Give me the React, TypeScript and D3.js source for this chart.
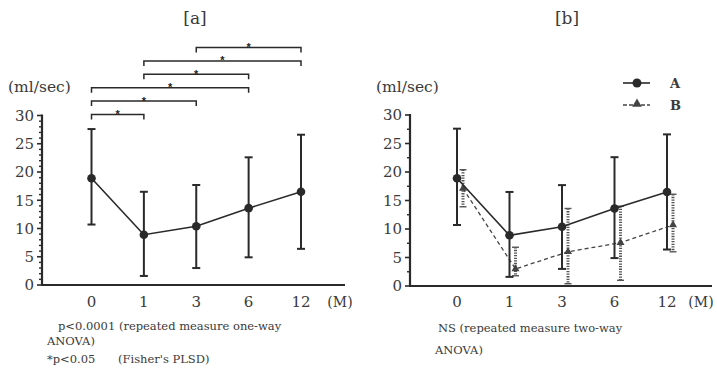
import React from "react";
import * as d3 from "d3";

const months = ["0", "1", "3", "6", "12"];
const meanA = [18.9, 8.9, 10.4, 13.6, 16.5];
const upperA = [27.6, 16.5, 17.7, 22.6, 26.6];
const lowerA = [10.7, 1.6, 3.0, 4.9, 6.4];
const meanB = [17.1, 3.0, 6.0, 7.6, 10.7];
const upperB = [20.4, 6.8, 13.6, 14.0, 16.1];
const lowerB = [13.9, 1.8, 0.4, 1.0, 6.0];
const sigPairs: [string, string][] = [
  ["0", "1"],
  ["0", "3"],
  ["0", "6"],
  ["1", "6"],
  ["1", "12"],
  ["3", "12"],
];
const yMajor = [0, 5, 10, 15, 20, 25, 30];
const notesA = ["p<0.0001 (repeated measure one-way", "ANOVA)", "*p<0.05", "(Fisher's PLSD)"];
const notesB = ["NS (repeated measure two-way", "ANOVA)"];

const FONT = "'DejaVu Serif', 'Liberation Serif', serif";
const INK = "#2a2a2a";
const TXT = "#3a3a3a";

type PanelProps = {
  axisX: number;
  axisEnd: number;
  mX: number;
  xRange: [number, number];
  yRange: [number, number];
  title: string;
  titleX: number;
  minorStep: number;
  children?: (x: d3.ScalePoint<string>, y: d3.ScaleLinear<number, number>) => React.ReactNode;
};

function Panel({ axisX, axisEnd, mX, xRange, yRange, title, titleX, minorStep, children }: PanelProps) {
  const x = d3.scalePoint<string>().domain(months).range(xRange);
  const y = d3.scaleLinear().domain([0, 30]).range(yRange);
  const minor = d3.range(0, 30 + 0.001, minorStep).filter((v) => !yMajor.includes(v));
  return (
    <g>
      <text x={titleX} y={24} fontFamily={FONT} fontSize={17} fill={TXT} textAnchor="middle">
        {title}
      </text>
      <text x={axisX - 34} y={92} fontFamily={FONT} fontSize={15.5} fill={TXT}>
        (ml/sec)
      </text>
      <line x1={axisX} x2={axisX} y1={y(30) - 1} y2={y(0)} stroke={INK} strokeWidth={2.2} />
      <line x1={axisX - 1} x2={axisEnd} y1={y(0)} y2={y(0)} stroke={INK} strokeWidth={2.2} />
      {yMajor.map((v) => (
        <g key={v}>
          <line x1={axisX - 5} x2={axisX} y1={y(v)} y2={y(v)} stroke={INK} strokeWidth={1.6} />
          <text
            x={axisX - 8}
            y={y(v)}
            dy="0.36em"
            textAnchor="end"
            fontFamily={FONT}
            fontSize={15}
            fill={TXT}
          >
            {v}
          </text>
        </g>
      ))}
      {minor.map((v) => (
        <line key={v} x1={axisX - 3} x2={axisX} y1={y(v)} y2={y(v)} stroke={INK} strokeWidth={1.4} />
      ))}
      {months.map((m) => (
        <text
          key={m}
          x={x(m)}
          y={302}
          dy="0.36em"
          textAnchor="middle"
          fontFamily={FONT}
          fontSize={15}
          fill={TXT}
        >
          {m}
        </text>
      ))}
      <text x={mX} y={302} dy="0.36em" textAnchor="middle" fontFamily={FONT} fontSize={14} fill={TXT}>
        (M)
      </text>
      {children && children(x, y)}
    </g>
  );
}

function SeriesA({ x, y }: { x: d3.ScalePoint<string>; y: d3.ScaleLinear<number, number> }) {
  const line = d3
    .line<number>()
    .x((_, i) => x(months[i]) as number)
    .y((d) => y(d));
  return (
    <g>
      {months.map((m, i) => {
        const cx = x(m) as number;
        return (
          <g key={m}>
            <line x1={cx} x2={cx} y1={y(upperA[i])} y2={y(lowerA[i])} stroke={INK} strokeWidth={2} />
            <line x1={cx - 4} x2={cx + 4} y1={y(upperA[i])} y2={y(upperA[i])} stroke={INK} strokeWidth={2} />
            <line x1={cx - 4} x2={cx + 4} y1={y(lowerA[i])} y2={y(lowerA[i])} stroke={INK} strokeWidth={2} />
          </g>
        );
      })}
      <path d={line(meanA) || ""} fill="none" stroke={INK} strokeWidth={1.6} />
      {months.map((m, i) => (
        <circle key={m} cx={x(m)} cy={y(meanA[i])} r={4.3} fill={INK} />
      ))}
    </g>
  );
}

function SeriesB({ x, y }: { x: d3.ScalePoint<string>; y: d3.ScaleLinear<number, number> }) {
  const off = 6;
  const line = d3
    .line<number>()
    .x((_, i) => (x(months[i]) as number) + off)
    .y((d) => y(d));
  const tri = d3.symbol().type(d3.symbolTriangle).size(28);
  return (
    <g>
      {months.map((m, i) => {
        const cx = (x(m) as number) + off;
        return (
          <g key={m} stroke="#555">
            <line
              x1={cx}
              x2={cx}
              y1={y(upperB[i])}
              y2={y(Math.max(lowerB[i], 0))}
              strokeWidth={3}
              strokeDasharray="1.3 1.3"
            />
            <line x1={cx - 3.5} x2={cx + 3.5} y1={y(upperB[i])} y2={y(upperB[i])} strokeWidth={1.4} />
            <line x1={cx - 3.5} x2={cx + 3.5} y1={y(lowerB[i])} y2={y(lowerB[i])} strokeWidth={1.4} />
          </g>
        );
      })}
      <path d={line(meanB) || ""} fill="none" stroke="#444" strokeWidth={1.3} strokeDasharray="4 3" />
      {months.map((m, i) => (
        <path
          key={m}
          d={tri() || ""}
          transform={`translate(${(x(m) as number) + off},${y(meanB[i])})`}
          fill="#444"
        />
      ))}
    </g>
  );
}

export default function App() {
  const tri = d3.symbol().type(d3.symbolTriangle).size(40);
  return (
    <svg
      width={717}
      height={375}
      style={{ position: "absolute", left: 0, top: 0, background: "#fff" }}
    >
      <rect width={717} height={375} fill="#fff" />
      <Panel
        axisX={42}
        axisEnd={345}
        mX={340}
        xRange={[91.5, 301]}
        yRange={[285, 115.5]}
        title="[a]"
        titleX={195}
        minorStep={1}
      >
        {(x, y) => (
          <g>
            <SeriesA x={x} y={y} />
            {sigPairs.map(([a, b], i) => {
              const x1 = x(a) as number;
              const x2 = x(b) as number;
              const ly = 114.5 - i * 13.4;
              return (
                <g key={i}>
                  <path
                    d={`M${x1},${ly + 5}V${ly}H${x2}V${ly + 5}`}
                    fill="none"
                    stroke={INK}
                    strokeWidth={1.5}
                  />
                  <text
                    x={(x1 + x2) / 2}
                    y={ly + 3.5}
                    textAnchor="middle"
                    fontFamily="'Liberation Sans', sans-serif"
                    fontSize={11}
                    fontWeight="bold"
                    fill="#222222"
                  >
                    *
                  </text>
                </g>
              );
            })}
            <text x={58} y={330} fontFamily={FONT} fontSize={11.5} fill={TXT}>
              {notesA[0]}
            </text>
            <text x={47} y={345} fontFamily={FONT} fontSize={11.5} fill={TXT}>
              {notesA[1]}
            </text>
            <text x={47} y={363} fontFamily={FONT} fontSize={11.5} fill={TXT}>
              {notesA[2]}
            </text>
            <text x={118} y={363} fontFamily={FONT} fontSize={11.5} fill={TXT}>
              {notesA[3]}
            </text>
          </g>
        )}
      </Panel>
      <Panel
        axisX={410}
        axisEnd={712}
        mX={701}
        xRange={[457, 667]}
        yRange={[286, 115]}
        title="[b]"
        titleX={567}
        minorStep={2.5}
      >
        {(x, y) => (
          <g>
            <SeriesB x={x} y={y} />
            <SeriesA x={x} y={y} />
            <text x={438} y={332} fontFamily={FONT} fontSize={11.5} fill={TXT}>
              {notesB[0]}
            </text>
            <text x={435} y={354} fontFamily={FONT} fontSize={11.5} fill={TXT}>
              {notesB[1]}
            </text>
            <line x1={623} x2={650} y1={83} y2={83} stroke={INK} strokeWidth={1.6} />
            <circle cx={637} cy={83} r={4.5} fill={INK} />
            <text x={670} y={83} dy="0.36em" fontFamily={FONT} fontSize={13} fontWeight="bold" fill={TXT}>
              A
            </text>
            <line x1={623} x2={650} y1={105} y2={105} stroke="#444" strokeWidth={1.3} strokeDasharray="4 2" />
            <path d={tri() || ""} transform="translate(637,104)" fill="#444" />
            <text x={670} y={105} dy="0.36em" fontFamily={FONT} fontSize={13} fontWeight="bold" fill={TXT}>
              B
            </text>
          </g>
        )}
      </Panel>
    </svg>
  );
}
